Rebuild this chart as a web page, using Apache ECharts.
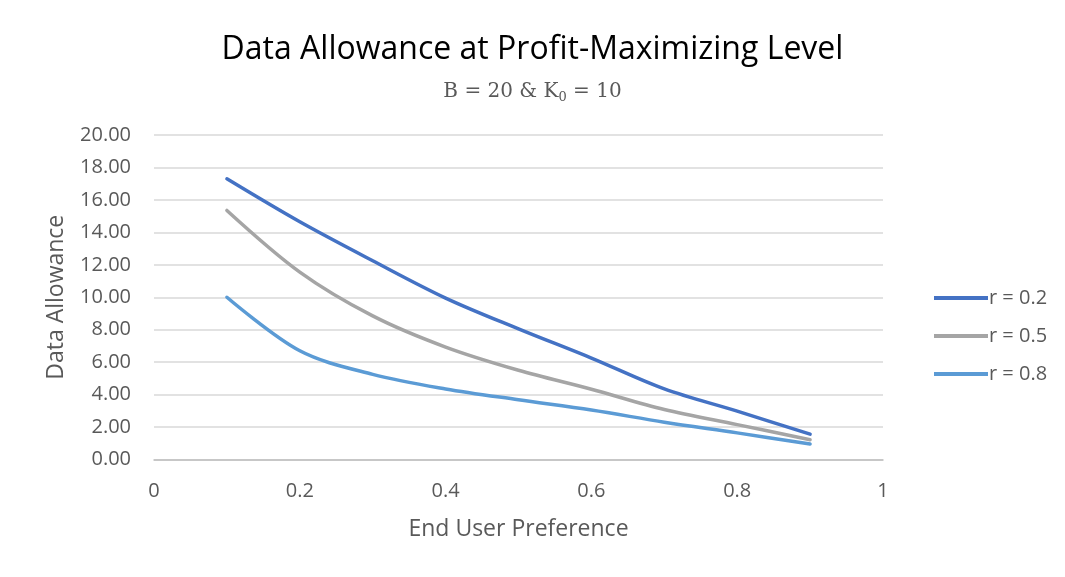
<!DOCTYPE html>
<html>
<head>
<meta charset="utf-8">
<script src="https://cdn.jsdelivr.net/npm/echarts@6/dist/echarts.min.js"></script>
<style>
  html, body { margin: 0; padding: 0; background: #fff; }
  #chart { width: 1065px; height: 577px; }
</style>
</head>
<body>
<div id="chart"></div>
<script>
// end user preference values on x
const preference = [0.1, 0.2, 0.3, 0.4, 0.5, 0.6, 0.7, 0.8, 0.9];
// data allowance for each r
const r02 = [17.3, 14.65, 12.25, 9.95, 8.05, 6.25, 4.35, 2.98, 1.56];
const r05 = [15.35, 11.55, 8.85, 6.93, 5.5, 4.33, 3.08, 2.15, 1.22];
const r08 = [10.0, 6.7, 5.25, 4.35, 3.68, 3.05, 2.3, 1.64, 0.95];
const seriesNames = ['r = 0.2', 'r = 0.5', 'r = 0.8'];
const colors = ['#4472C4', '#A5A5A5', '#5B9BD5'];

const chart = echarts.init(document.getElementById('chart'));

function pairs(vals) {
  return preference.map((x, i) => [x, vals[i]]);
}

const allSeries = [r02, r05, r08].map((vals, i) => ({
  name: seriesNames[i],
  type: 'line',
  data: pairs(vals),
  smooth: 0.33,
  symbol: 'none',
  lineStyle: { width: 3.5, color: colors[i], cap: 'round' },
  itemStyle: { color: colors[i] }
}));

const option = {
  animation: false,
  backgroundColor: '#fff',
  title: [
    {
      text: 'Data Allowance at Profit-Maximizing Level',
      left: 'center',
      top: 29,
      textStyle: { fontFamily: 'Open Sans', fontSize: 32, fontWeight: 'normal', color: '#000' }
    },
    {
      text: '{m|B = 20 & K}{s|0}{m| = 10}',
      left: 'center',
      top: 75,
      textStyle: {
        fontWeight: 'normal',
        rich: {
          m: { fontFamily: 'DejaVu Serif', fontSize: 20, fontWeight: 'normal', color: '#595959' },
          s: { fontFamily: 'DejaVu Serif', fontSize: 13, fontWeight: 'normal', color: '#595959', padding: [11, 0, 0, 0] }
        }
      }
    }
  ],
  grid: { left: 154, top: 135, width: 729, height: 324.5, containLabel: false },
  legend: {
    orient: 'vertical',
    left: 929,
    top: 283,
    itemGap: 18,
    itemWidth: 54,
    itemHeight: 4,
    icon: 'rect',
    data: seriesNames,
    textStyle: { fontFamily: 'Open Sans', fontSize: 20, color: '#595959', padding: [0, 0, 0, -4] }
  },
  xAxis: {
    type: 'value',
    min: 0,
    max: 1,
    interval: 0.2,
    name: 'End User Preference',
    nameLocation: 'middle',
    nameGap: 58,
    nameTextStyle: { fontFamily: 'Open Sans', fontSize: 23, color: '#595959' },
    axisLine: { show: true, lineStyle: { color: '#BFBFBF', width: 1.5 } },
    axisTick: { show: false },
    splitLine: { show: false },
    axisLabel: {
      margin: 22,
      fontFamily: 'Open Sans',
      fontSize: 20,
      color: '#595959',
      formatter: v => String(Math.round(v * 10) / 10)
    }
  },
  yAxis: {
    type: 'value',
    min: 0,
    max: 20,
    interval: 2,
    name: 'Data Allowance',
    nameLocation: 'middle',
    nameGap: 86,
    nameTextStyle: { fontFamily: 'Open Sans', fontSize: 23, color: '#595959' },
    axisLine: { show: false },
    axisTick: { show: false },
    splitLine: { lineStyle: { color: '#D9D9D9', width: 1.5 } },
    axisLabel: {
      margin: 23,
      fontFamily: 'Open Sans',
      fontSize: 20,
      color: '#595959',
      formatter: v => v.toFixed(2)
    }
  },
  series: allSeries
};

chart.setOption(option);
</script>
</body>
</html>
